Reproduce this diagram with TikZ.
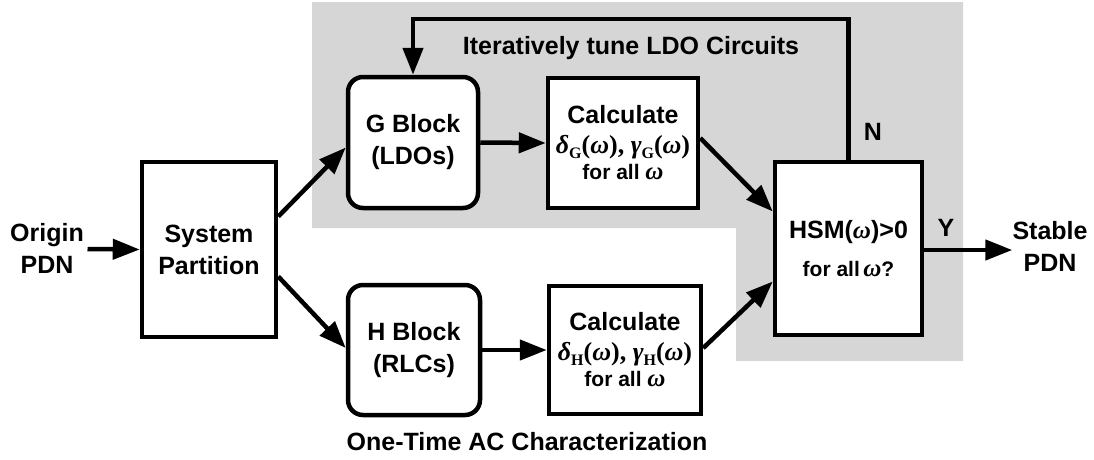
\documentclass[tikz,border=0pt]{standalone}
\usepackage{fontspec}
\setmainfont{Liberation Sans}
\newfontfamily\sr{Liberation Serif}
\usetikzlibrary{arrows.meta,calc}
\newcommand\om{{\fontsize{25}{25}\selectfont\sr\itshape ω\/}}
\newcommand\subl[1]{\raisebox{-0.35ex}{\fontsize{16}{16}\selectfont\sr\bfseries #1}}
\newcommand\calcmath[1]{{\fontsize{26}{26}\selectfont{\sr\itshape δ}\subl{#1}{\sr(\itshape ω\/\upshape), \itshape γ}\subl{#1}{\sr(\itshape ω\/\upshape)}}}
\definecolor{bgray}{RGB}{214,214,214}
\begin{document}
\begin{tikzpicture}[x=1pt,y=-1pt,
  every node/.style={font=\bfseries\fontsize{25}{32}\selectfont, align=center},
  blk/.style={draw, line width=4.5pt, fill=white, inner sep=0pt},
  rblk/.style={blk, rounded corners=15pt},
  lbl/.style={inner sep=0pt},
  arr/.style={line width=4.5pt, -{Triangle[length=27pt,width=20pt]}}]
\useasboundingbox (0,0) rectangle (1094,459);
\fill[bgray] (312,2) -- (963,2) -- (963,361) -- (736,361) -- (736,228) -- (312,228) -- cycle;

\node[blk, minimum width=134pt, minimum height=175pt] (sys) at (209,249.5) {System\\Partition};
\node[rblk, minimum width=130pt, minimum height=131pt] (G) at (413,142.5) {G Block\\(LDOs)};
\node[rblk, minimum width=132pt, minimum height=130pt] (H) at (414,350) {H Block\\(RLCs)};
\node[blk, minimum width=150pt, minimum height=130pt] (CG) at (623,143)
  {Calculate\\[-2pt]\calcmath{G}\\[-6pt]{\fontsize{21}{24}\selectfont for all \om}};
\node[blk, minimum width=152pt, minimum height=128pt] (CH) at (625,350)
  {Calculate\\[-2pt]\calcmath{H}\\[-6pt]{\fontsize{21}{24}\selectfont for all \om}};
\node[blk, minimum width=147pt, minimum height=173pt] (HSM) at (848.5,248.5)
  {HSM({\sr\itshape ω\/})>0\\[6pt]{\fontsize{21}{24}\selectfont for all\,\om?}};

\node[lbl] (orig) at (47,248) {Origin\\PDN};
\node[lbl] (stab) at (1050,246) {Stable\\PDN};
\node[lbl] (title) at (631,48) {Iteratively tune LDO Circuits};
\node[lbl] (bottom) at (527,442) {One-Time AC Characterization};
\node[lbl] (N) at (873,132) {N};
\node[lbl] (Y) at (946,228) {Y};

\coordinate (fb) at (848.5,19);
\draw[arr] (orig.east) ++(3.5,1) -- (sys.west);
\draw[arr] ($(sys.east)+(0,-33)$) -- ($(G.west)+(0,5)$);
\draw[arr] ($(sys.east)+(0,27)$) -- ($(H.west)+(0,-2)$);
\draw[arr] (G.east) -- (CG.west);
\draw[arr] (H.east) -- (CH.west);
\draw[arr] ($(CG.east)+(0,-5)$) -- ($(HSM.west)+(0,-37)$);
\draw[arr] ($(CH.east)+(0,-2)$) -- ($(HSM.west)+(0,33)$);
\draw[arr] ($(HSM.east)+(0,1.5)$) -- (stab.west |- 0,250);
\draw[arr] (HSM.north) -- (fb) -| (G.north);
\end{tikzpicture}
\end{document}
